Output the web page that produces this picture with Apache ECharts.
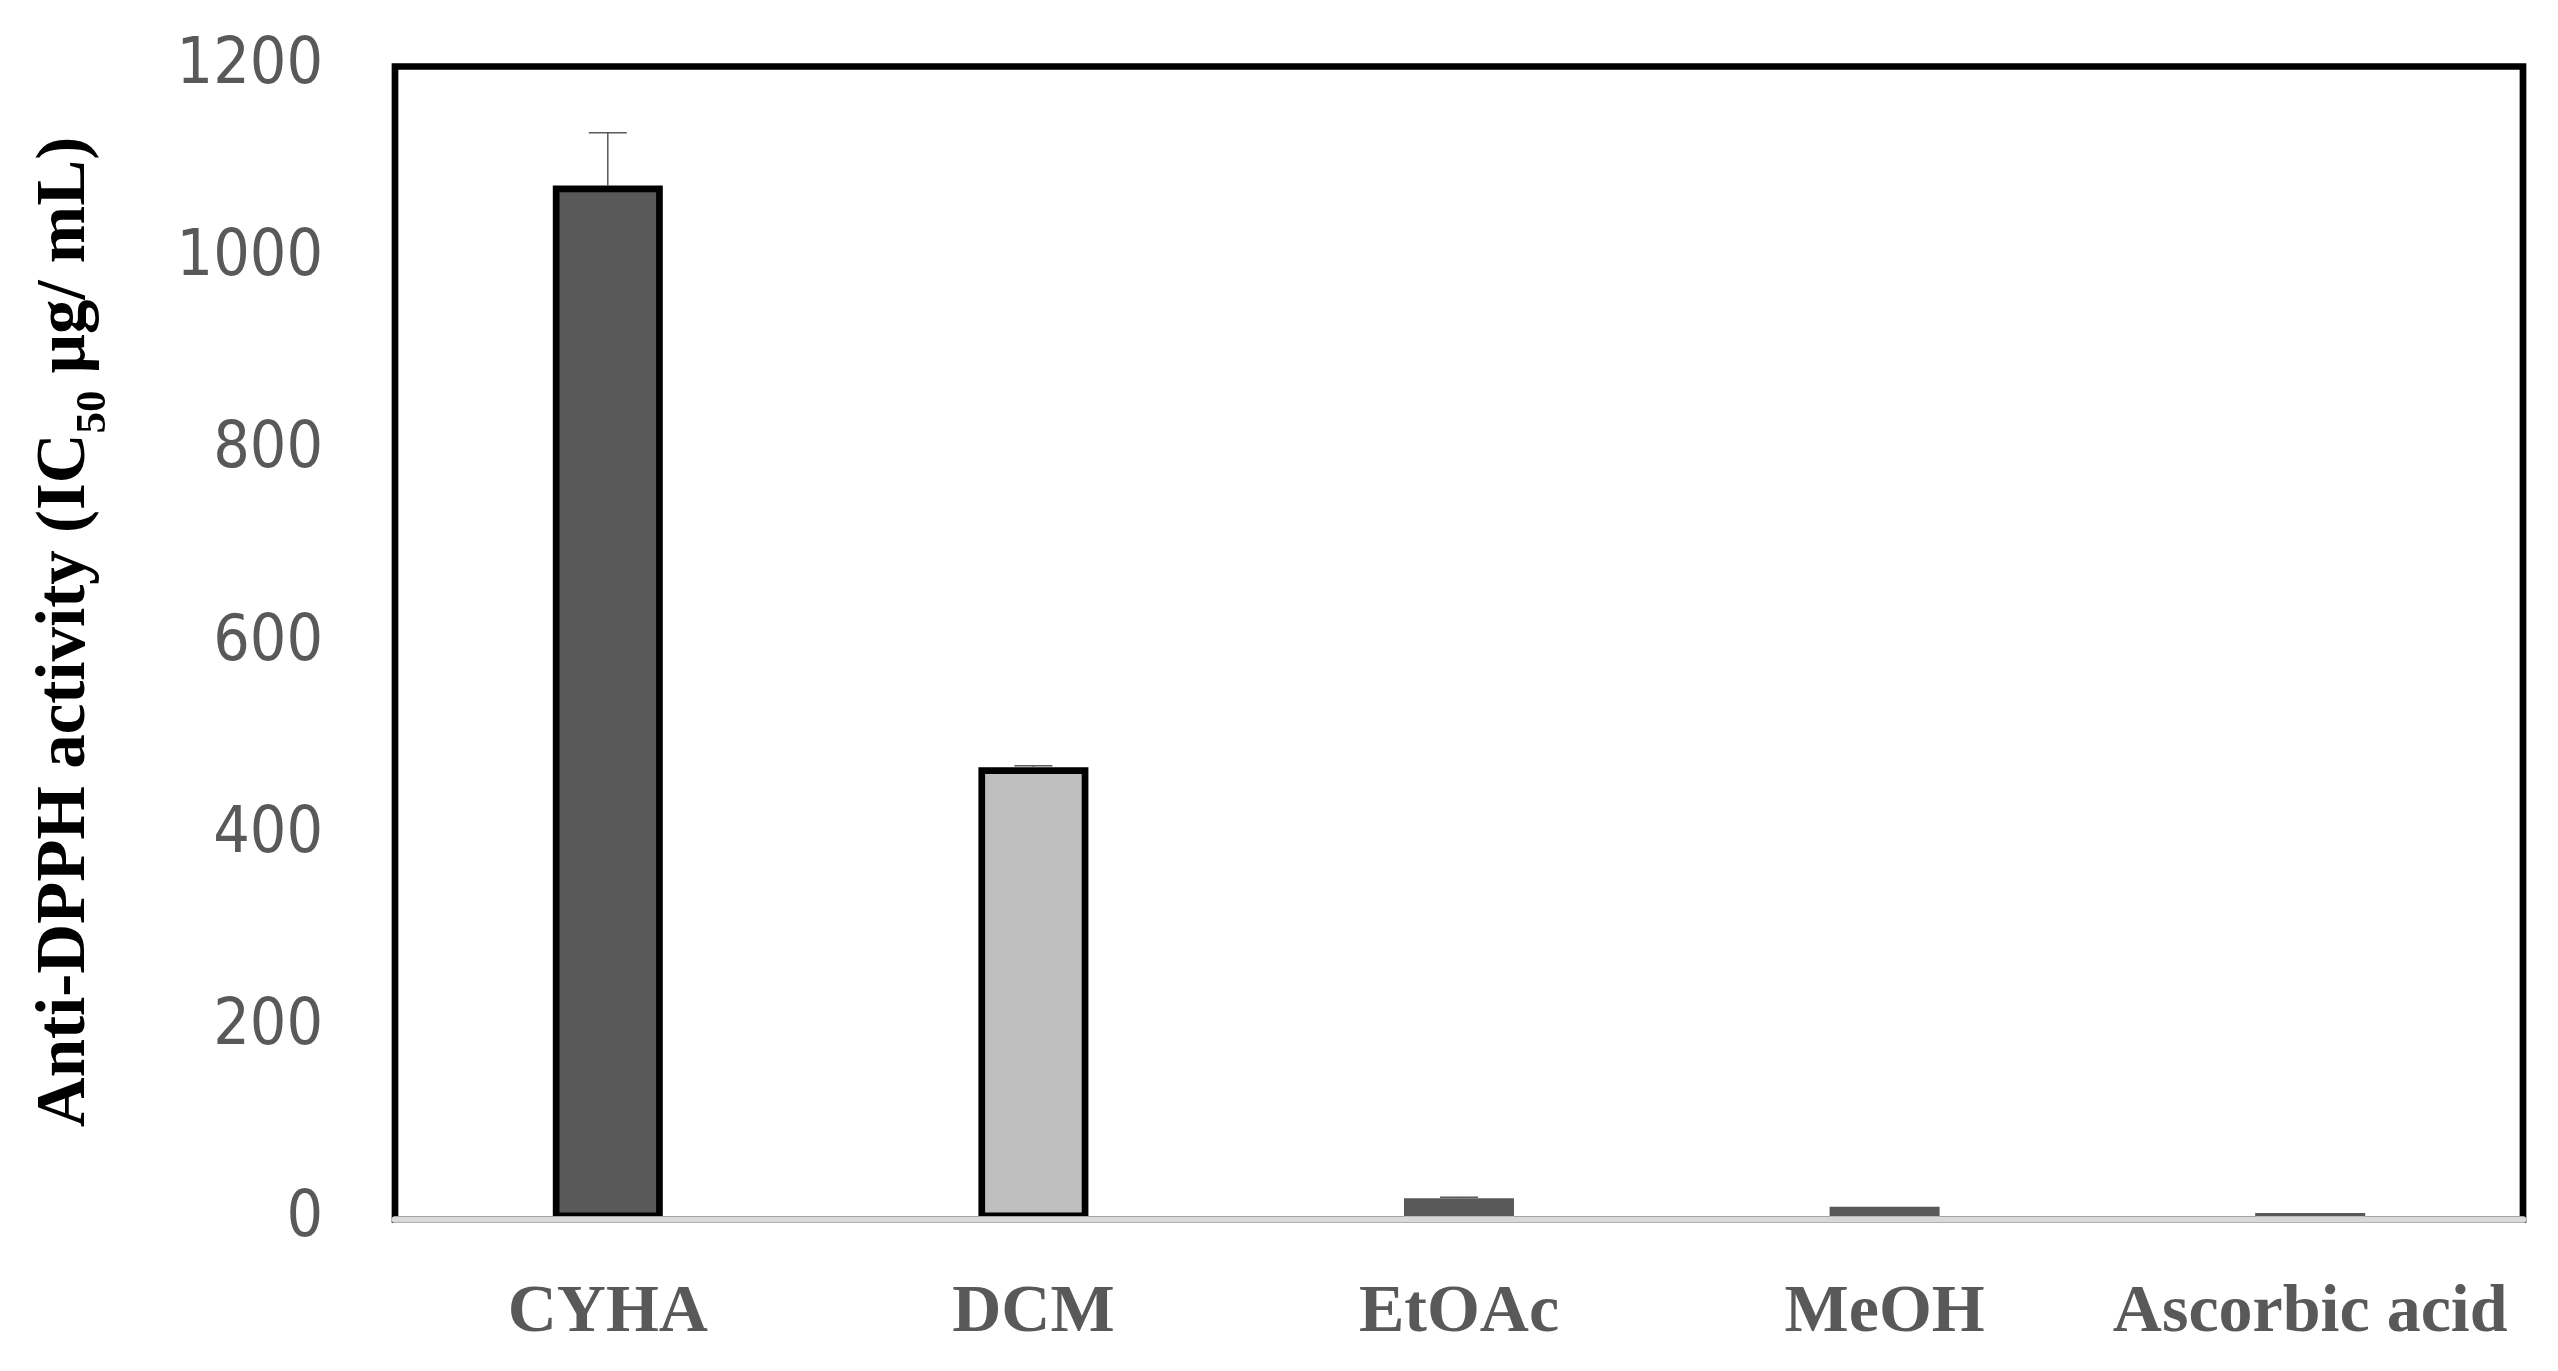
<!DOCTYPE html>
<html>
<head>
<meta charset="utf-8">
<script src="https://cdn.jsdelivr.net/npm/echarts@6/dist/echarts.min.js"></script>
<style>
html,body{margin:0;padding:0;background:#fff;}
#chart{width:2558px;height:1371px;}
</style>
</head>
<body>
<div id="chart"></div>
<script>
// ---- data ----
const categories = ['CYHA', 'DCM', 'EtOAc', 'MeOH', 'Ascorbic acid'];
const values = [1076, 470.5, 22, 13, 6.5];
const errors = [55, 1.5, 1, 0, 0];
const yMin = 0, yMax = 1200, yStep = 200;

// ---- styles ----
const barFill = ['#595959', '#bfbfbf', '#595959', '#595959', '#595959'];
const barBorder = [6.7, 6.7, 0, 0, 0];

const chart = echarts.init(document.getElementById('chart'));

const barData = values.map((v, i) => ({
  value: v,
  itemStyle: { color: barFill[i], borderColor: '#000', borderWidth: barBorder[i] }
}));
const errData = values.map((v, i) => [i, v, errors[i]]);

chart.setOption({
  animation: false,
  backgroundColor: '#fff',
  grid: {
    left: 395, right: 35, top: 66.5, bottom: 151.7,
    show: true, borderColor: '#000', borderWidth: 6.7, backgroundColor: 'transparent'
  },
  xAxis: {
    type: 'category',
    data: categories,
    z: 10,
    axisLine: { show: true, lineStyle: { color: '#d9d9d9', width: 6.7 } },
    axisTick: { show: false },
    axisLabel: {
      margin: 60,
      color: '#595959',
      fontFamily: "'Liberation Serif', serif",
      fontWeight: 'bold',
      fontSize: 68,
      interval: 0
    }
  },
  yAxis: {
    type: 'value',
    min: yMin, max: yMax, interval: yStep,
    axisLine: { show: false },
    axisTick: { show: false },
    splitLine: { show: false },
    axisLabel: {
      margin: 72,
      color: '#595959',
      fontFamily: "'DejaVu Sans Condensed', 'DejaVu Sans', sans-serif",
      fontSize: 64,
      formatter: function (v) { return String(v); }
    },
    name: '{b|Anti-DPPH activity (IC}{s|50}{b| μg/ mL)}',
    nameLocation: 'middle',
    nameRotate: 90,
    nameGap: 294,
    nameTextStyle: {
      padding: [0, 0, 0, 22],
      rich: {
        b: { fontFamily: "'Liberation Serif', serif", fontWeight: 'bold', fontSize: 69, color: '#000', lineHeight: 80, verticalAlign: 'bottom' },
        s: { fontFamily: "'Liberation Serif', serif", fontWeight: 'bold', fontSize: 43, color: '#000', lineHeight: 80, verticalAlign: 'bottom', padding: [0, 0, -14, 0] }
      }
    }
  },
  series: [
    {
      type: 'bar',
      data: barData,
      barWidth: 110,
      z: 2
    },
    {
      type: 'custom',
      z: 3,
      data: errData,
      renderItem: function (params, api) {
        const i = api.value(0), v = api.value(1), e = api.value(2);
        if (!e) return null;
        const base = api.coord([i, v]);
        const top = api.coord([i, v + e]);
        const hw = 19;
        return {
          type: 'group',
          children: [
            { type: 'line', shape: { x1: base[0], y1: base[1], x2: top[0], y2: top[1] }, style: { stroke: '#595959', lineWidth: 1.5 } },
            { type: 'line', shape: { x1: top[0] - hw, y1: top[1], x2: top[0] + hw, y2: top[1] }, style: { stroke: '#595959', lineWidth: 1.5 } }
          ]
        };
      }
    }
  ]
});
</script>
</body>
</html>
